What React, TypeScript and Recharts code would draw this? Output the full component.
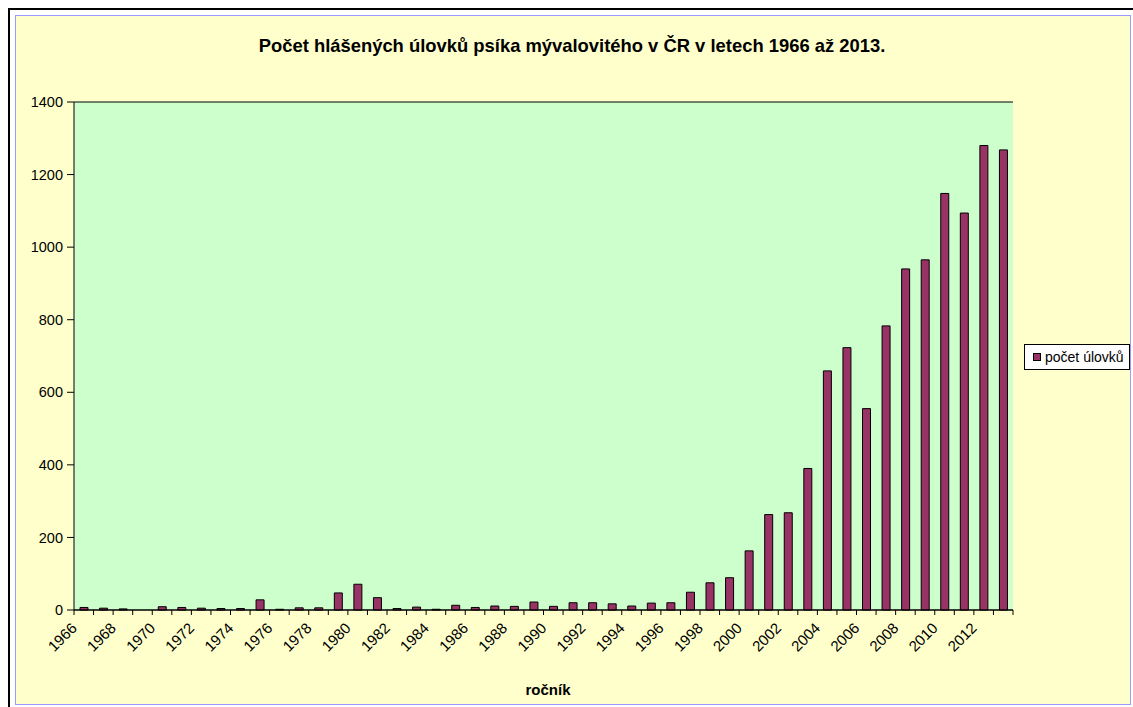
import React from 'react';
import { BarChart, Bar, XAxis, YAxis, CartesianGrid } from 'recharts';

const years = [
  '1966', '1967', '1968', '1969', '1970', '1971', '1972', '1973', '1974', '1975',
  '1976', '1977', '1978', '1979', '1980', '1981', '1982', '1983', '1984', '1985',
  '1986', '1987', '1988', '1989', '1990', '1991', '1992', '1993', '1994', '1995',
  '1996', '1997', '1998', '1999', '2000', '2001', '2002', '2003', '2004', '2005',
  '2006', '2007', '2008', '2009', '2010', '2011', '2012', '2013',
];

const counts = [
  7, 5, 3, 0, 9, 7, 5, 4, 4, 28,
  2, 6, 6, 47, 71, 34, 4, 8, 2, 13,
  7, 11, 10, 22, 10, 20, 20, 17, 11, 19,
  20, 49, 75, 89, 163, 263, 268, 390, 659, 723,
  555, 783, 940, 965, 1148, 1094, 1280, 1268,
];

const yTicks = [0, 200, 400, 600, 800, 1000, 1200, 1400];

const seriesName = 'počet úlovků';
const title = 'Počet hlášených úlovků psíka mývalovitého v ČR v letech 1966 až 2013.';
const xTitle = 'ročník';

const data = years.map((y, i) => ({ year: y, value: counts[i] }));

const FONT = "Arial, 'Liberation Sans', sans-serif";
const CHART_W = 1114;
const CHART_H = 687;
const MARGIN = { top: 86, right: 117, left: 0, bottom: 0 };
const Y_W = 58;
const X_H = 93;
const PLOT_W = CHART_W - MARGIN.left - MARGIN.right - Y_W;

const XTick = (props: any) => {
  const { x, y, index, payload, width } = props;
  const w = typeof width === 'number' && width > 0 ? width : PLOT_W;
  const half = w / (2 * years.length);
  const ax = x - 6;
  const ay = y + 19;
  return (
    <g>
      <line x1={x - half} y1={y} x2={x - half} y2={y + 5} stroke="#000" strokeWidth={1} />
      {index === years.length - 1 && (
        <line x1={x + half} y1={y} x2={x + half} y2={y + 5} stroke="#000" strokeWidth={1} />
      )}
      {index % 2 === 0 && (
        <text
          x={ax}
          y={ay}
          textAnchor="end"
          fontSize={15}
          fontFamily={FONT}
          fill="#000"
          transform={`rotate(-45 ${ax} ${ay})`}
        >
          {payload.value}
        </text>
      )}
    </g>
  );
};

export default function App() {
  return (
    <div
      style={{
        position: 'fixed',
        left: 8,
        top: 8,
        width: 1125,
        height: 699,
        overflow: 'hidden',
        borderLeft: '2px solid #000',
        borderTop: '2px solid #000',
        background: '#fff',
        boxSizing: 'border-box',
        fontFamily: FONT,
      }}
    >
      <div
        style={{
          position: 'absolute',
          left: 5,
          top: 5,
          width: 1116,
          height: 690,
          border: '1px solid #9999FF',
          background: '#FFFFCC',
          boxSizing: 'border-box',
        }}
      >
        <div style={{ position: 'absolute', left: 0, top: 0 }}>
          <BarChart width={CHART_W} height={CHART_H} data={data} margin={MARGIN}>
            <CartesianGrid fill="#CCFFCC" stroke="#000" strokeOpacity={1} vertical={false} />
            <XAxis
              dataKey="year"
              interval={0}
              height={X_H}
              tickSize={0}
              tickMargin={0}
              tickLine={false}
              axisLine={{ stroke: '#000', strokeWidth: 1 }}
              tick={<XTick />}
            />
            <YAxis
              yAxisId="left"
              width={Y_W}
              domain={[0, 1400]}
              ticks={yTicks}
              interval={0}
              tickSize={7}
              tickMargin={4}
              tickLine={{ stroke: '#000' }}
              axisLine={{ stroke: '#000', strokeWidth: 1 }}
              tick={{ fill: '#000', fontSize: 14.5, fontFamily: FONT }}
            />
            <YAxis
              yAxisId="right"
              orientation="right"
              width={0}
              domain={[0, 1400]}
              tick={false}
              tickLine={false}
              axisLine={{ stroke: '#808080', strokeWidth: 2 }}
            />
            <Bar
              yAxisId="left"
              dataKey="value"
              name={seriesName}
              fill="#993366"
              stroke="#000"
              strokeWidth={1}
              barSize={8}
              isAnimationActive={false}
            />
          </BarChart>
        </div>
        <svg
          width={CHART_W}
          height={CHART_H}
          style={{ position: 'absolute', left: 0, top: 0, pointerEvents: 'none' }}
        >
          <text x={556} y={36} textAnchor="middle" fontSize={18.4} fontWeight="bold" fontFamily={FONT} fill="#000">
            {title}
          </text>
          <text x={532} y={679} textAnchor="middle" fontSize={15} fontWeight="bold" fontFamily={FONT} fill="#000">
            {xTitle}
          </text>
        </svg>
        <div
          style={{
            position: 'absolute',
            left: 1008,
            top: 328,
            width: 106,
            height: 26,
            border: '1px solid #000',
            background: '#fff',
            boxSizing: 'border-box',
            display: 'flex',
            alignItems: 'center',
            paddingLeft: 8,
          }}
        >
          <span
            style={{
              display: 'inline-block',
              width: 8,
              height: 8,
              background: '#993366',
              border: '1px solid #000',
              boxSizing: 'border-box',
              marginRight: 4,
            }}
          />
          <span style={{ fontSize: 14, color: '#000', whiteSpace: 'nowrap', lineHeight: '14px' }}>{seriesName}</span>
        </div>
      </div>
    </div>
  );
}
